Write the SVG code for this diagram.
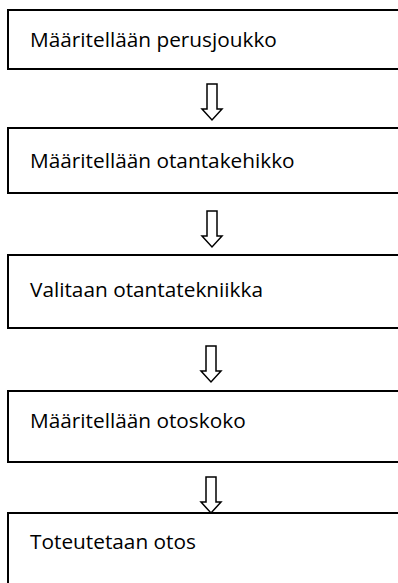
<svg xmlns="http://www.w3.org/2000/svg" width="398" height="583" viewBox="0 0 398 583">
  <style>
    .box { fill: #ffffff; stroke: #000000; stroke-width: 2; }
    .label { font-family: "Open Sans", "Liberation Sans", sans-serif; font-size: 20.8px; fill: #000000; }
    .arrow { fill: #ffffff; stroke: #000000; stroke-width: 1.5; stroke-linejoin: miter; }
  </style>
  <defs>
    <!-- hollow block arrow pointing down, tip at (0,0) -->
    <path id="down" d="M -5 -36 L 5 -36 L 5 -11 L 10 -11 L 0 0 L -10 -11 L -5 -11 Z"/>
  </defs>
  <rect width="398" height="583" fill="#ffffff"/>

  <g id="step1">
    <rect class="box" x="8" y="10" width="400" height="59"/>
    <text class="label" x="30" y="47">Määritellään perusjoukko</text>
  </g>
  <g id="step2">
    <rect class="box" x="8" y="128" width="400" height="65"/>
    <text class="label" x="30" y="168">Määritellään otantakehikko</text>
  </g>
  <g id="step3">
    <rect class="box" x="8" y="255" width="400" height="73"/>
    <text class="label" x="30" y="297">Valitaan otantatekniikka</text>
  </g>
  <g id="step4">
    <rect class="box" x="8" y="391" width="400" height="71"/>
    <text class="label" x="30" y="428">Määritellään otoskoko</text>
  </g>
  <g id="step5">
    <rect class="box" x="8" y="513" width="400" height="80"/>
    <text class="label" x="30" y="549">Toteutetaan otos</text>
  </g>

  <g id="connectors">
    <use href="#down" class="arrow" x="212" y="120"/>
    <use href="#down" class="arrow" x="212" y="247"/>
    <use href="#down" class="arrow" x="211" y="382"/>
    <use href="#down" class="arrow" x="211" y="513"/>
  </g>
</svg>
